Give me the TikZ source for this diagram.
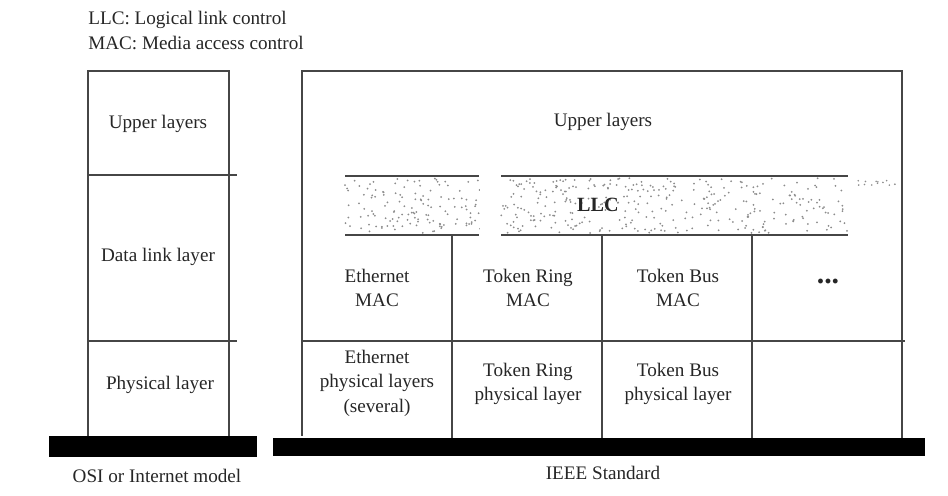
\documentclass[tikz,border=0pt]{standalone}
\usepackage{fontspec}
\setmainfont{Liberation Serif}
\usetikzlibrary{positioning}
\definecolor{stackgray}{RGB}{70,70,70}
\definecolor{specklegray}{RGB}{140,140,140}

\begin{document}
\begin{tikzpicture}[x=0.02cm,y=-0.02cm,font=\fontsize{10.9}{14}\selectfont,
                outer/.style={draw=stackgray,line width=1.1pt},
                inner/.style={draw=stackgray,line width=0.8pt},
                bar/.style={fill=black},
                lbl/.style={align=center,inner sep=1pt,text=black!85}]
                \useasboundingbox (0,0) rectangle (948,496);
                \node[anchor=north west,align=left,inner sep=0pt,text=black!85]
                           (legend) at (88,11) {LLC: Logical link control\\MAC: Media access control};
                \draw[outer] (88,436) -- (88,71) -- (229,71) -- (229,436);
                \draw[inner] (88,175) -- (237,175);
                \draw[inner] (88,341) -- (237,341);
                \fill[bar] (49,436) rectangle (257,457);
                \node[lbl] (osiup)   at (158,124) {Upper layers};
                \node[lbl] (osidll)  at (158,257) {Data link layer};
                \node[lbl] (osiphy)  at (160,385) {Physical layer};
                \node[lbl] (osi)     at (157,476) {OSI or Internet model};
                \pgfmathsetseed{7}
                \foreach \i in {1,...,480}{
                  \pgfmathsetmacro{\px}{345+503*rnd}
                  \pgfmathsetmacro{\py}{178+55*rnd}
                  \fill[specklegray] (\px,\py) circle (1.0);
                }
                \foreach \i in {1,...,12}{
                  \pgfmathsetmacro{\px}{850+45*rnd}
                  \pgfmathsetmacro{\py}{180+6*rnd}
                  \fill[specklegray] (\px,\py) circle (0.9);
                }
                \fill[white] (480,176) rectangle (500,236);
                \draw[outer] (302,436) -- (302,71) -- (902,71) -- (902,438);
                \draw[outer] (345,176) -- (479,176);
                \draw[outer] (345,235) -- (479,235);
                \draw[outer] (501,176) -- (848,176);
                \draw[outer] (501,235) -- (848,235);
                \foreach \xd in {452,602,752}
                  \draw[inner] (\xd,235) -- (\xd,438);
                \draw[inner] (301,341) -- (905,341);
                \fill[bar] (273,438) rectangle (925,456);
                \node[lbl] (ieeeup)  at (603,122) {Upper layers};
                \node[lbl,font=\fontsize{11.5}{14}\selectfont\bfseries]
                           (llc)     at (598,205) {LLC};
                \node[lbl] (ethmac)  at (377,288) {Ethernet\\MAC};
                \node[lbl] (trmac)   at (528,288) {Token Ring\\MAC};
                \node[lbl] (tbmac)   at (678,288) {Token Bus\\MAC};
                \node[lbl,font=\fontsize{17}{17}\selectfont\bfseries]
                           (moremac) at (828,282) {...};
                \node[lbl] (ethphy)  at (377,383) {Ethernet\\physical layers\\(several)};
                \node[lbl] (trphy)   at (528,384) {Token Ring\\physical layer};
                \node[lbl] (tbphy)   at (678,384) {Token Bus\\physical layer};
                \node[lbl] (ieee)    at (603,473) {IEEE Standard};
            \end{tikzpicture}
\end{document}
